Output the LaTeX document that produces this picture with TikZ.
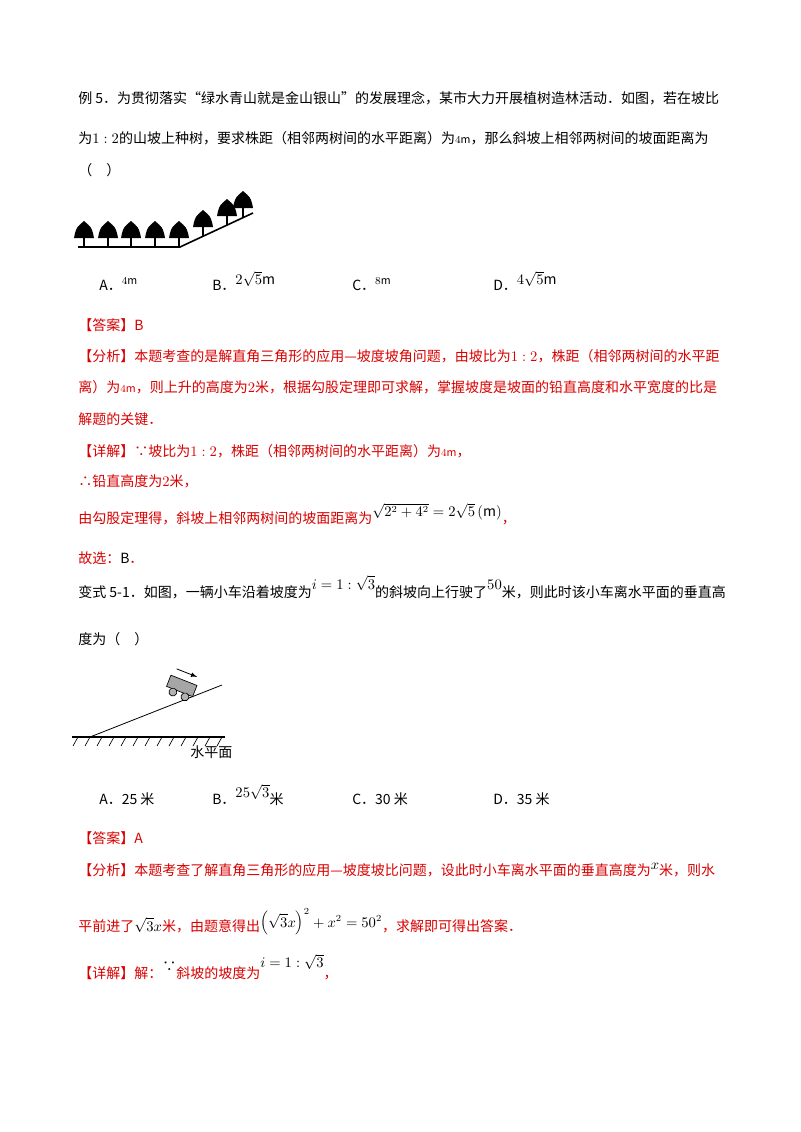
\documentclass[tikz,border=0pt]{standalone}
\usepackage{fontspec}
\setmainfont{Noto Sans CJK SC}
\begin{document}
\begin{tikzpicture}[x=0.75pt,y=-0.75pt,
  t/.style={anchor=base west,inner sep=0pt,font=\fontsize{10.5}{12}\selectfont},
  r/.style={t,text=red!85!black}]
\newcommand{\fm}{{\fontsize{8}{9}\selectfont$4\mathrm{m}$}}
\useasboundingbox (0,0) rectangle (800,1132);
\fill[white] (0,0) rectangle (800,1132);
\node[t] (l1) at (78,103) {例 5．为贯彻落实“绿水青山就是金山银山”的发展理念，某市大力开展植树造林活动．如图，若在坡比};
\node[t] (l2) at (78,143) {为$1:2$的山坡上种树，要求株距（相邻两树间的水平距离）为\fm，那么斜坡上相邻两树间的坡面距离为};
\node[t] (l3) at (78,175) {（\quad）};
% trees figure
\coordinate (g0) at (78,247); \coordinate (g1) at (180,247); \coordinate (g2) at (253,213);
\draw[line width=1.2pt] (g0) -- (g1) -- (g2);
\foreach \x/\y in {84/247,108/247,131/247,155/247,179/247,203/236,227/225,243/217}{
  \draw[line width=1.2pt] (\x,\y) -- (\x,\y-9);
  \fill (\x-10,\y-9) -- (\x-9,\y-14) .. controls (\x-7,\y-20) .. (\x,\y-26) .. controls (\x+7,\y-20) .. (\x+9,\y-14) -- (\x+10,\y-9) -- cycle;
}
\node[t] (a1) at (99,290) {A．\raisebox{4pt}{\fm}};
\node[t] (b1) at (212,290) {B．\raisebox{4pt}{$2\sqrt{5}\mathrm{m}$}};
\node[t] (c1) at (352,290) {C．\raisebox{4pt}{{\fontsize{8}{9}\selectfont$8\mathrm{m}$}}};
\node[t] (d1) at (493,290) {D．\raisebox{4pt}{$4\sqrt{5}\mathrm{m}$}};
\node[r] (ans1) at (78,330) {【答案】B};
\node[r] (an1) at (78,361) {【分析】本题考查的是解直角三角形的应用—坡度坡角问题，由坡比为$1:2$，株距（相邻两树间的水平距};
\node[r] (an2) at (78,392) {离）为\fm，则上升的高度为$2$米，根据勾股定理即可求解，掌握坡度是坡面的铅直高度和水平宽度的比是};
\node[r] (an3) at (78,424) {解题的关键．};
\node[r] (de1) at (78,456) {【详解】∵坡比为$1:2$，株距（相邻两树间的水平距离）为\fm，};
\node[r] (de2) at (78,486) {∴铅直高度为$2$米，};
\node[r] (de3) at (78,523) {由勾股定理得，斜坡上相邻两树间的坡面距离为\raisebox{5pt}{\color{black}$\sqrt{2^2+4^2}=2\sqrt5\left(\mathrm{m}\right)$}，};
\node[r] (de4) at (78,563) {故选：{\color{black}B}．};
\node[t] (v1) at (78,597) {变式 5-1．如图，一辆小车沿着坡度为\raisebox{6pt}{$i=1:\sqrt3$}的斜坡向上行驶了\raisebox{6pt}{$50$}米，则此时该小车离水平面的垂直高};
\node[t] (v2) at (78,644) {度为（\quad）};
% cart figure
\coordinate (h0) at (72,737); \coordinate (h1) at (225,737);
\coordinate (s0) at (90,737); \coordinate (s1) at (222,685);
\draw[line width=0.8pt] (h0) -- (h1);
\foreach \x in {78,90,...,222}{\draw[line width=0.5pt] (\x,737) -- (\x-5,746);}
\draw[line width=0.6pt] (s0) -- (s1);
\begin{scope}[shift={(177,698)},rotate=-21.5]
  \fill[gray!70,draw=black,line width=0.5pt] (-14,-19) rectangle (14,-7);
  \fill[gray!60,draw=black,line width=0.5pt] (-6,-4) circle (4);
  \fill[gray!60,draw=black,line width=0.5pt] (7,-4) circle (4);
  \draw[-latex,line width=0.6pt] (-11,-27) -- (11,-27);
\end{scope}
\node[t] (hp) at (190,757) {水平面};
\node[t] (a2) at (99,804) {A．25 米};
\node[t] (b2) at (212,804) {B．\raisebox{5pt}{$25\sqrt3$}米};
\node[t] (c2) at (352,804) {C．30 米};
\node[t] (d2) at (493,804) {D．35 米};
\node[r] (ans2) at (78,843) {【答案】A};
\node[r] (f1) at (78,875) {【分析】本题考查了解直角三角形的应用—坡度坡比问题，设此时小车离水平面的垂直高度为\raisebox{4pt}{\color{black}$x$}米，则水};
\node[r] (f2) at (78,931) {平前进了{\color{black}$\sqrt3x$}米，由题意得出\raisebox{3pt}{\color{black}$\left(\sqrt3x\right)^2+x^2=50^2$}，求解即可得出答案．};
\node[r] (f3) at (78,978) {【详解】解：\raisebox{5pt}{\color{black}∵}斜坡的坡度为\raisebox{8pt}{\color{black}$i=1:\sqrt3$}，};
\end{tikzpicture}
\end{document}
